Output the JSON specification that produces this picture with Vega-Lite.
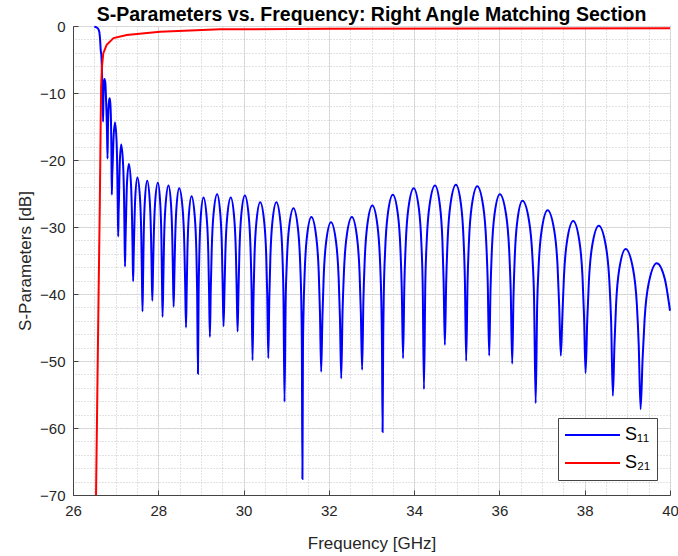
{
"$schema": "https://vega.github.io/schema/vega-lite/v6.json",
"autosize": {"type": "none"},
"width": 597, "height": 469,
"padding": {"left": 73, "top": 26, "right": 8, "bottom": 61},
"background": "white",
"config": {
  "font": "Liberation Sans",
  "view": {"stroke": "#444444", "strokeWidth": 1},
  "axis": {"labelFont": "Liberation Sans", "titleFont": "Liberation Sans", "labelColor": "#262626", "titleColor": "#262626", "labelFontSize": 15, "titleFontSize": 17, "titleFontWeight": "normal", "domainColor": "#444444", "tickColor": "#444444"}
},
"title": {"text": "S-Parameters vs. Frequency: Right Angle Matching Section", "fontSize": 19.5, "fontWeight": "bold", "font": "Liberation Sans", "color": "#000000", "anchor": "middle", "offset": -6},
"datasets": {
"s11": [
{"f":26.50,"dB":-0.1},{"f":26.55,"dB":-0.2},{"f":26.59,"dB":-0.4},{"f":26.62,"dB":-1.0},{"f":26.64,"dB":-2.5},{"f":26.65,"dB":-3.6},{"f":26.665,"dB":-4.4},{"f":26.685,"dB":-8},{"f":26.705,"dB":-14.3},{"f":26.715,"dB":-10.5},{"f":26.725,"dB":-8.5},{"f":26.74,"dB":-7.9},{"f":26.76,"dB":-8.6},{"f":26.775,"dB":-11},{"f":26.795,"dB":-15},{"f":26.81,"dB":-19.8},{"f":26.82,"dB":-15},{"f":26.83,"dB":-12.5},{"f":26.845,"dB":-11.2},{"f":26.86,"dB":-10.8},{"f":26.875,"dB":-11.5},{"f":26.89,"dB":-14},{"f":26.90,"dB":-18},{"f":26.91,"dB":-25.2},
{"f":26.919,"dB":-22.5},{"f":26.929,"dB":-20.9},{"f":26.948,"dB":-17.1},{"f":26.985,"dB":-14.4},{"f":27.023,"dB":-17.4},{"f":27.041,"dB":-22.7},{"f":27.051,"dB":-27.2},{"f":27.06,"dB":-31.4},
{"f":27.069,"dB":-28.0},{"f":27.078,"dB":-25.9},{"f":27.095,"dB":-20.7},{"f":27.13,"dB":-17.7},{"f":27.175,"dB":-20.7},{"f":27.198,"dB":-26.0},{"f":27.209,"dB":-31.4},{"f":27.22,"dB":-35.9},
{"f":27.231,"dB":-32.1},{"f":27.243,"dB":-28.9},{"f":27.265,"dB":-23.6},{"f":27.31,"dB":-20.6},{"f":27.36,"dB":-23.6},{"f":27.385,"dB":-28.9},{"f":27.398,"dB":-33.7},{"f":27.41,"dB":-38.1},
{"f":27.423,"dB":-34.2},{"f":27.435,"dB":-30.9},{"f":27.46,"dB":-25.6},{"f":27.51,"dB":-22.6},{"f":27.57,"dB":-25.6},{"f":27.60,"dB":-30.9},{"f":27.615,"dB":-36.8},{"f":27.63,"dB":-42.6},
{"f":27.644,"dB":-37.3},{"f":27.658,"dB":-31.4},{"f":27.685,"dB":-26.1},{"f":27.74,"dB":-23.1},{"f":27.80,"dB":-26.1},{"f":27.83,"dB":-31.4},{"f":27.845,"dB":-36.5},{"f":27.86,"dB":-41.0},
{"f":27.876,"dB":-36.6},{"f":27.893,"dB":-31.7},{"f":27.925,"dB":-26.4},{"f":27.99,"dB":-23.4},{"f":28.045,"dB":-26.4},{"f":28.073,"dB":-31.7},{"f":28.086,"dB":-37.6},{"f":28.10,"dB":-43.4},
{"f":28.118,"dB":-38.0},{"f":28.135,"dB":-32.1},{"f":28.17,"dB":-26.8},{"f":28.24,"dB":-23.8},{"f":28.30,"dB":-26.8},{"f":28.33,"dB":-32.1},{"f":28.345,"dB":-37.4},{"f":28.36,"dB":-41.9},
{"f":28.376,"dB":-37.5},{"f":28.393,"dB":-32.5},{"f":28.425,"dB":-27.2},{"f":28.49,"dB":-24.2},{"f":28.57,"dB":-27.2},{"f":28.61,"dB":-32.5},{"f":28.63,"dB":-38.4},{"f":28.65,"dB":-45.0},
{"f":28.666,"dB":-39.6},{"f":28.683,"dB":-33.7},{"f":28.715,"dB":-28.4},{"f":28.78,"dB":-25.4},{"f":28.855,"dB":-28.4},{"f":28.893,"dB":-33.7},{"f":28.911,"dB":-39.6},{"f":28.93,"dB":-51.9},
{"f":28.946,"dB":-39.8},{"f":28.963,"dB":-33.9},{"f":28.995,"dB":-28.6},{"f":29.06,"dB":-25.6},{"f":29.135,"dB":-28.6},{"f":29.173,"dB":-33.9},{"f":29.191,"dB":-39.8},{"f":29.21,"dB":-46.4},
{"f":29.231,"dB":-39.3},{"f":29.253,"dB":-33.4},{"f":29.295,"dB":-28.1},{"f":29.38,"dB":-25.1},{"f":29.455,"dB":-28.1},{"f":29.493,"dB":-33.4},{"f":29.511,"dB":-39.3},{"f":29.53,"dB":-44.8},
{"f":29.551,"dB":-39.8},{"f":29.573,"dB":-33.9},{"f":29.615,"dB":-28.6},{"f":29.70,"dB":-25.6},{"f":29.78,"dB":-28.6},{"f":29.82,"dB":-33.9},{"f":29.84,"dB":-39.8},{"f":29.86,"dB":-45.6},
{"f":29.881,"dB":-39.5},{"f":29.903,"dB":-33.6},{"f":29.945,"dB":-28.3},{"f":30.03,"dB":-25.3},{"f":30.12,"dB":-28.3},{"f":30.165,"dB":-33.6},{"f":30.188,"dB":-39.5},{"f":30.21,"dB":-49.9},
{"f":30.233,"dB":-40.5},{"f":30.255,"dB":-34.6},{"f":30.30,"dB":-29.3},{"f":30.39,"dB":-26.3},{"f":30.485,"dB":-29.3},{"f":30.533,"dB":-34.6},{"f":30.556,"dB":-40.5},{"f":30.58,"dB":-49.6},
{"f":30.604,"dB":-40.5},{"f":30.628,"dB":-34.6},{"f":30.675,"dB":-29.3},{"f":30.77,"dB":-26.3},{"f":30.865,"dB":-29.3},{"f":30.913,"dB":-34.6},{"f":30.936,"dB":-40.5},{"f":30.96,"dB":-56.1},
{"f":30.986,"dB":-41.4},{"f":31.013,"dB":-35.5},{"f":31.065,"dB":-30.2},{"f":31.17,"dB":-27.2},{"f":31.275,"dB":-30.2},{"f":31.328,"dB":-35.5},{"f":31.354,"dB":-41.4},{"f":31.367,"dB":-48},{"f":31.38,"dB":-67.6},
{"f":31.393,"dB":-48},{"f":31.406,"dB":-42.7},{"f":31.433,"dB":-36.8},{"f":31.485,"dB":-31.5},{"f":31.59,"dB":-28.5},{"f":31.705,"dB":-31.5},{"f":31.763,"dB":-36.8},{"f":31.791,"dB":-42.7},{"f":31.82,"dB":-51.6},
{"f":31.849,"dB":-43.5},{"f":31.878,"dB":-37.6},{"f":31.935,"dB":-32.3},{"f":32.05,"dB":-29.3},{"f":32.17,"dB":-32.3},{"f":32.23,"dB":-37.6},{"f":32.26,"dB":-43.5},{"f":32.29,"dB":-52.6},
{"f":32.321,"dB":-42.7},{"f":32.353,"dB":-36.8},{"f":32.415,"dB":-31.5},{"f":32.54,"dB":-28.5},{"f":32.66,"dB":-31.5},{"f":32.72,"dB":-36.8},{"f":32.75,"dB":-42.7},{"f":32.78,"dB":-51.3},
{"f":32.81,"dB":-41.0},{"f":32.84,"dB":-35.1},{"f":32.90,"dB":-29.8},{"f":33.02,"dB":-26.8},{"f":33.14,"dB":-29.8},{"f":33.20,"dB":-35.1},{"f":33.23,"dB":-41.0},{"f":33.245,"dB":-47},{"f":33.26,"dB":-60.6},
{"f":33.275,"dB":-46},{"f":33.29,"dB":-39.4},{"f":33.32,"dB":-33.5},{"f":33.38,"dB":-28.2},{"f":33.50,"dB":-25.2},{"f":33.62,"dB":-28.2},{"f":33.68,"dB":-33.5},{"f":33.71,"dB":-39.4},{"f":33.74,"dB":-49.6},
{"f":33.771,"dB":-38.4},{"f":33.803,"dB":-32.5},{"f":33.865,"dB":-27.2},{"f":33.99,"dB":-24.2},{"f":34.11,"dB":-27.2},{"f":34.17,"dB":-32.5},{"f":34.20,"dB":-38.4},{"f":34.23,"dB":-54.2},
{"f":34.263,"dB":-38.0},{"f":34.295,"dB":-32.1},{"f":34.36,"dB":-26.8},{"f":34.49,"dB":-23.8},{"f":34.605,"dB":-26.8},{"f":34.663,"dB":-32.1},{"f":34.691,"dB":-38.0},{"f":34.72,"dB":-47.6},
{"f":34.753,"dB":-37.9},{"f":34.785,"dB":-32.0},{"f":34.85,"dB":-26.7},{"f":34.98,"dB":-23.7},{"f":35.10,"dB":-26.7},{"f":35.16,"dB":-32.0},{"f":35.19,"dB":-37.9},{"f":35.22,"dB":-50.0},
{"f":35.253,"dB":-38.1},{"f":35.285,"dB":-32.2},{"f":35.35,"dB":-26.9},{"f":35.48,"dB":-23.9},{"f":35.62,"dB":-26.9},{"f":35.69,"dB":-32.2},{"f":35.725,"dB":-38.1},{"f":35.76,"dB":-49.2},
{"f":35.791,"dB":-39.3},{"f":35.823,"dB":-33.4},{"f":35.885,"dB":-28.1},{"f":36.01,"dB":-25.1},{"f":36.155,"dB":-28.1},{"f":36.228,"dB":-33.4},{"f":36.264,"dB":-39.3},{"f":36.30,"dB":-50.4},
{"f":36.33,"dB":-40.3},{"f":36.36,"dB":-34.4},{"f":36.42,"dB":-29.1},{"f":36.54,"dB":-26.1},{"f":36.695,"dB":-29.1},{"f":36.773,"dB":-34.4},{"f":36.811,"dB":-40.3},{"f":36.85,"dB":-56.3},
{"f":36.885,"dB":-41.7},{"f":36.92,"dB":-35.8},{"f":36.99,"dB":-30.5},{"f":37.13,"dB":-27.5},{"f":37.285,"dB":-30.5},{"f":37.363,"dB":-35.8},{"f":37.401,"dB":-41.7},{"f":37.44,"dB":-49.2},
{"f":37.476,"dB":-43.3},{"f":37.513,"dB":-37.4},{"f":37.585,"dB":-32.1},{"f":37.73,"dB":-29.1},{"f":37.875,"dB":-32.1},{"f":37.948,"dB":-37.4},{"f":37.984,"dB":-43.3},{"f":38.02,"dB":-51.8},
{"f":38.059,"dB":-44.0},{"f":38.098,"dB":-38.1},{"f":38.175,"dB":-32.8},{"f":38.33,"dB":-29.8},{"f":38.495,"dB":-32.8},{"f":38.578,"dB":-38.1},{"f":38.619,"dB":-44.0},{"f":38.66,"dB":-55.2},
{"f":38.698,"dB":-47.5},{"f":38.735,"dB":-41.6},{"f":38.81,"dB":-36.3},{"f":38.96,"dB":-33.3},{"f":39.135,"dB":-36.3},{"f":39.223,"dB":-41.6},{"f":39.266,"dB":-47.5},{"f":39.31,"dB":-57.2},
{"f":39.358,"dB":-49.6},{"f":39.405,"dB":-43.7},{"f":39.50,"dB":-38.4},{"f":39.69,"dB":-35.4},{"f":39.88,"dB":-37.8},{"f":40.0,"dB":-42.5}
],
"s21": [
{"f":26.54,"dB":-70},{"f":26.57,"dB":-55},{"f":26.60,"dB":-40},{"f":26.63,"dB":-26},{"f":26.65,"dB":-14},{"f":26.66,"dB":-9},{"f":26.68,"dB":-6},{"f":26.71,"dB":-4.1},{"f":26.79,"dB":-2.8},{"f":26.95,"dB":-1.8},{"f":27.26,"dB":-1.35},{"f":28.04,"dB":-0.85},{"f":29.45,"dB":-0.5},{"f":32,"dB":-0.42},{"f":36,"dB":-0.36},{"f":40,"dB":-0.32}
]
},
"layer": [
  {
    "data": {"name": "s11"},
    "mark": {"type": "line", "strokeWidth": 2, "interpolate": "monotone"},
    "encoding": {
      "x": {"field": "f", "type": "quantitative", "scale": {"domain": [26, 40], "nice": false, "zero": false},
        "axis": {"orient": "bottom", "title": "Frequency [GHz]", "values": [26,28,30,32,34,36,38,40], "grid": true, "gridColor": "#e2e2e2", "tickSize": -5, "labelPadding": 13, "labelFlush": false, "titlePadding": 17}},
      "y": {"field": "dB", "type": "quantitative", "scale": {"domain": [-70, 0], "nice": false, "zero": false},
        "axis": {"orient": "left", "title": "S-Parameters [dB]", "values": [-70,-60,-50,-40,-30,-20,-10,0], "grid": true, "gridColor": "#e2e2e2", "tickSize": -5, "labelPadding": 13, "titlePadding": 5}},
      "color": {"datum": "S₁₁", "type": "nominal", "scale": {"domain": ["S₁₁", "S₂₁"], "range": ["#0000ff", "#ff0000"]},
        "legend": {"orient": "none", "legendX": 485, "legendY": 392, "title": null, "symbolType": "stroke", "symbolSize": 3025, "symbolStrokeWidth": 2, "clipHeight": 22, "labelFontSize": 18, "labelFont": "Liberation Sans", "labelColor": "#000000", "strokeColor": "#444444", "fillColor": "white", "padding": 6, "rowPadding": 6, "labelOffset": 4}}
    }
  },
  {
    "data": {"name": "s21"},
    "mark": {"type": "line", "strokeWidth": 2},
    "encoding": {
      "x": {"field": "f", "type": "quantitative",
        "axis": {"orient": "top", "title": null, "labels": false, "ticks": false, "domain": false, "grid": true, "gridColor": "#c4c4c4", "gridDash": [1, 2],
          "values": [26,26.5,27,27.5,28,28.5,29,29.5,30,30.5,31,31.5,32,32.5,33,33.5,34,34.5,35,35.5,36,36.5,37,37.5,38,38.5,39,39.5,40]}},
      "y": {"field": "dB", "type": "quantitative",
        "axis": {"orient": "right", "title": null, "labels": false, "ticks": false, "domain": false, "grid": true, "gridColor": "#c4c4c4", "gridDash": [1, 2],
          "values": [-70,-68,-66,-64,-62,-60,-58,-56,-54,-52,-50,-48,-46,-44,-42,-40,-38,-36,-34,-32,-30,-28,-26,-24,-22,-20,-18,-16,-14,-12,-10,-8,-6,-4,-2,0]}},
      "color": {"datum": "S₂₁", "type": "nominal"}
    }
  }
],
"resolve": {"axis": {"x": "independent", "y": "independent"}}
}
